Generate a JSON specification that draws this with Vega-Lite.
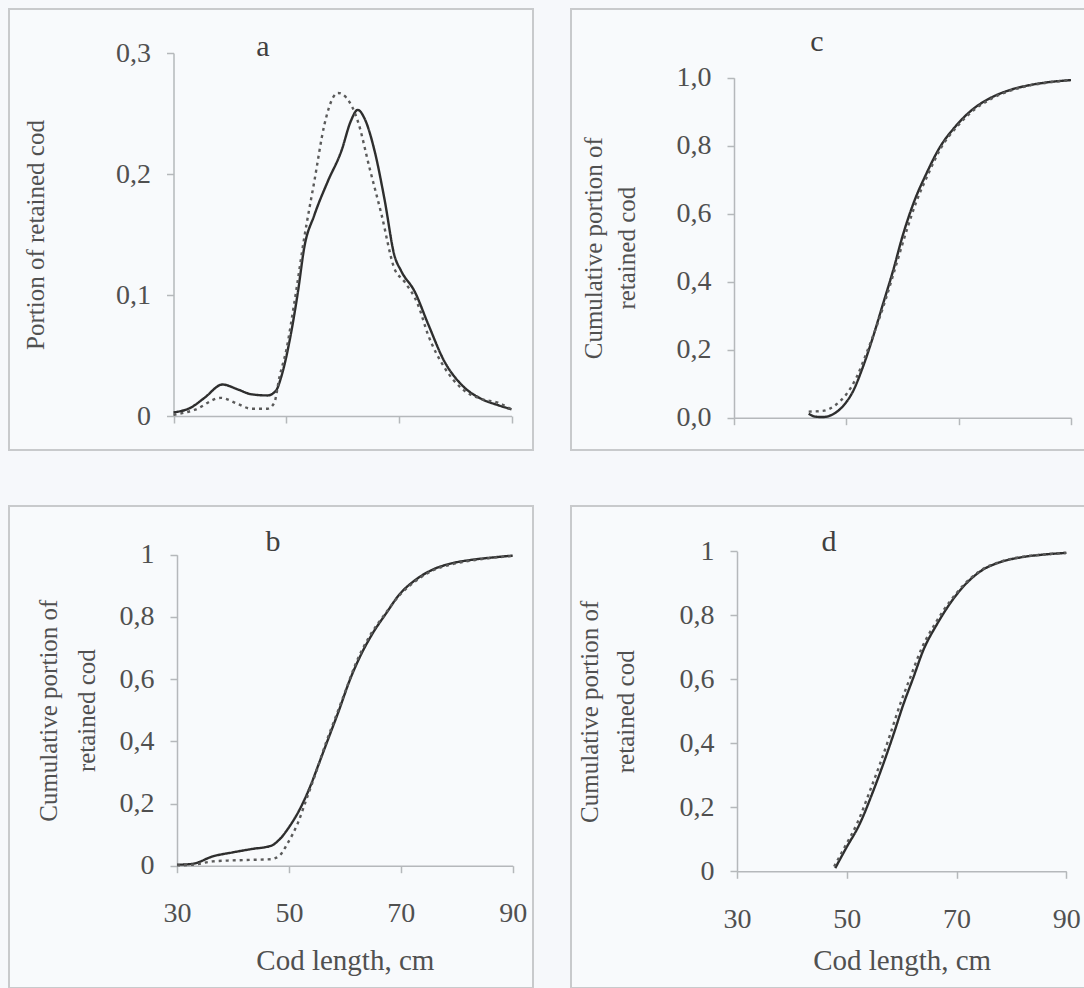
{
  "$schema": "https://vega.github.io/schema/vega-lite/v6.json",
  "background": "#f6f8fb",
  "padding": {"left": 8, "top": 8, "right": 0, "bottom": 3},
  "spacing": 54,
  "datasets": {
    "a": [
      {"series": "solid", "length": 30, "portion": 0.003}, {"series": "solid", "length": 33.1, "portion": 0.007}, {"series": "solid", "length": 35.5, "portion": 0.015}, {"series": "solid", "length": 38.7, "portion": 0.026}, {"series": "solid", "length": 41.4, "portion": 0.022}, {"series": "solid", "length": 43.8, "portion": 0.018}, {"series": "solid", "length": 46.7, "portion": 0.017}, {"series": "solid", "length": 48.2, "portion": 0.021}, {"series": "solid", "length": 49.1, "portion": 0.032}, {"series": "solid", "length": 50.6, "portion": 0.062}, {"series": "solid", "length": 52.1, "portion": 0.103}, {"series": "solid", "length": 53.2, "portion": 0.139}, {"series": "solid", "length": 55, "portion": 0.166}, {"series": "solid", "length": 57.4, "portion": 0.194}, {"series": "solid", "length": 59.8, "portion": 0.219}, {"series": "solid", "length": 61.5, "portion": 0.244}, {"series": "solid", "length": 62.7, "portion": 0.253}, {"series": "solid", "length": 63.9, "portion": 0.246}, {"series": "solid", "length": 65.7, "portion": 0.219}, {"series": "solid", "length": 67.5, "portion": 0.178}, {"series": "solid", "length": 69.2, "portion": 0.133}, {"series": "solid", "length": 70.4, "portion": 0.12}, {"series": "solid", "length": 72.8, "portion": 0.103}, {"series": "solid", "length": 75.2, "portion": 0.076}, {"series": "solid", "length": 78.1, "portion": 0.045}, {"series": "solid", "length": 81.1, "portion": 0.026}, {"series": "solid", "length": 84.7, "portion": 0.014}, {"series": "solid", "length": 87.6, "portion": 0.009}, {"series": "solid", "length": 90, "portion": 0.0055},
      {"series": "dotted", "length": 30, "portion": 0.001}, {"series": "dotted", "length": 33.7, "portion": 0.005}, {"series": "dotted", "length": 38.4, "portion": 0.015}, {"series": "dotted", "length": 41.4, "portion": 0.01}, {"series": "dotted", "length": 43.8, "portion": 0.006}, {"series": "dotted", "length": 46.7, "portion": 0.006}, {"series": "dotted", "length": 47.9, "portion": 0.011}, {"series": "dotted", "length": 48.8, "portion": 0.032}, {"series": "dotted", "length": 50, "portion": 0.054}, {"series": "dotted", "length": 51.5, "portion": 0.095}, {"series": "dotted", "length": 53.2, "portion": 0.147}, {"series": "dotted", "length": 55, "portion": 0.194}, {"series": "dotted", "length": 56.8, "portion": 0.241}, {"series": "dotted", "length": 58.3, "portion": 0.263}, {"series": "dotted", "length": 59.2, "portion": 0.267}, {"series": "dotted", "length": 60.7, "portion": 0.263}, {"series": "dotted", "length": 62.7, "portion": 0.244}, {"series": "dotted", "length": 64.8, "portion": 0.205}, {"series": "dotted", "length": 66.9, "portion": 0.167}, {"series": "dotted", "length": 69.2, "portion": 0.122}, {"series": "dotted", "length": 71, "portion": 0.111}, {"series": "dotted", "length": 73.4, "portion": 0.092}, {"series": "dotted", "length": 75.2, "portion": 0.067}, {"series": "dotted", "length": 78.1, "portion": 0.04}, {"series": "dotted", "length": 81.1, "portion": 0.023}, {"series": "dotted", "length": 84.7, "portion": 0.014}, {"series": "dotted", "length": 87.6, "portion": 0.011}, {"series": "dotted", "length": 90, "portion": 0.0055}
    ],
    "b": [
      {"series": "solid", "length": 30, "portion": 0.003}, {"series": "solid", "length": 32.8, "portion": 0.006}, {"series": "solid", "length": 36.4, "portion": 0.03}, {"series": "solid", "length": 40, "portion": 0.043}, {"series": "solid", "length": 43.5, "portion": 0.054}, {"series": "solid", "length": 46.8, "portion": 0.064}, {"series": "solid", "length": 48.3, "portion": 0.084}, {"series": "solid", "length": 50.1, "portion": 0.126}, {"series": "solid", "length": 51.9, "portion": 0.18}, {"series": "solid", "length": 53.7, "portion": 0.25}, {"series": "solid", "length": 55.4, "portion": 0.33}, {"series": "solid", "length": 57.2, "portion": 0.416}, {"series": "solid", "length": 59, "portion": 0.502}, {"series": "solid", "length": 60.8, "portion": 0.593}, {"series": "solid", "length": 62.6, "portion": 0.668}, {"series": "solid", "length": 65, "portion": 0.748}, {"series": "solid", "length": 67.4, "portion": 0.812}, {"series": "solid", "length": 69.7, "portion": 0.871}, {"series": "solid", "length": 72.7, "portion": 0.92}, {"series": "solid", "length": 75.7, "portion": 0.952}, {"series": "solid", "length": 79.3, "portion": 0.973}, {"series": "solid", "length": 82.9, "portion": 0.984}, {"series": "solid", "length": 86.4, "portion": 0.991}, {"series": "solid", "length": 90, "portion": 0.997},
      {"series": "dotted", "length": 30, "portion": 0.001}, {"series": "dotted", "length": 32.8, "portion": 0.003}, {"series": "dotted", "length": 36.4, "portion": 0.014}, {"series": "dotted", "length": 40, "portion": 0.017}, {"series": "dotted", "length": 43.5, "portion": 0.019}, {"series": "dotted", "length": 46.8, "portion": 0.021}, {"series": "dotted", "length": 48.3, "portion": 0.032}, {"series": "dotted", "length": 49.8, "portion": 0.073}, {"series": "dotted", "length": 51.6, "portion": 0.137}, {"series": "dotted", "length": 53.1, "portion": 0.212}, {"series": "dotted", "length": 54.8, "portion": 0.298}, {"series": "dotted", "length": 56.6, "portion": 0.394}, {"series": "dotted", "length": 58.4, "portion": 0.48}, {"series": "dotted", "length": 60.2, "portion": 0.566}, {"series": "dotted", "length": 62, "portion": 0.652}, {"series": "dotted", "length": 64.5, "portion": 0.74}, {"series": "dotted", "length": 67.2, "portion": 0.81}, {"series": "dotted", "length": 69.7, "portion": 0.868}, {"series": "dotted", "length": 72.7, "portion": 0.916}, {"series": "dotted", "length": 75.7, "portion": 0.949}, {"series": "dotted", "length": 79.3, "portion": 0.97}, {"series": "dotted", "length": 82.9, "portion": 0.982}, {"series": "dotted", "length": 86.4, "portion": 0.99}, {"series": "dotted", "length": 90, "portion": 0.996}
    ],
    "c": [
      {"series": "solid", "length": 43.3, "portion": 0.012}, {"series": "solid", "length": 44.5, "portion": 0.003}, {"series": "solid", "length": 45.8, "portion": 0.002}, {"series": "solid", "length": 47.6, "portion": 0.01}, {"series": "solid", "length": 49.4, "portion": 0.034}, {"series": "solid", "length": 51.2, "portion": 0.078}, {"series": "solid", "length": 52.9, "portion": 0.147}, {"series": "solid", "length": 54.7, "portion": 0.235}, {"series": "solid", "length": 56.5, "portion": 0.333}, {"series": "solid", "length": 58.3, "portion": 0.431}, {"series": "solid", "length": 60.1, "portion": 0.539}, {"series": "solid", "length": 62.1, "portion": 0.637}, {"series": "solid", "length": 64.2, "portion": 0.716}, {"series": "solid", "length": 66.6, "portion": 0.794}, {"series": "solid", "length": 69.5, "portion": 0.858}, {"series": "solid", "length": 72.5, "portion": 0.907}, {"series": "solid", "length": 75.5, "portion": 0.939}, {"series": "solid", "length": 79, "portion": 0.963}, {"series": "solid", "length": 82.6, "portion": 0.978}, {"series": "solid", "length": 86.1, "portion": 0.987}, {"series": "solid", "length": 90, "portion": 0.993},
      {"series": "dotted", "length": 43.3, "portion": 0.018}, {"series": "dotted", "length": 45.8, "portion": 0.02}, {"series": "dotted", "length": 48.2, "portion": 0.039}, {"series": "dotted", "length": 50, "portion": 0.069}, {"series": "dotted", "length": 51.8, "portion": 0.118}, {"series": "dotted", "length": 53.5, "portion": 0.186}, {"series": "dotted", "length": 55.3, "portion": 0.265}, {"series": "dotted", "length": 57.1, "portion": 0.353}, {"series": "dotted", "length": 58.9, "portion": 0.451}, {"series": "dotted", "length": 60.7, "portion": 0.549}, {"series": "dotted", "length": 62.5, "portion": 0.637}, {"series": "dotted", "length": 64.5, "portion": 0.714}, {"series": "dotted", "length": 66.8, "portion": 0.792}, {"series": "dotted", "length": 69.7, "portion": 0.856}, {"series": "dotted", "length": 72.7, "portion": 0.905}, {"series": "dotted", "length": 75.7, "portion": 0.937}, {"series": "dotted", "length": 79.2, "portion": 0.962}, {"series": "dotted", "length": 82.6, "portion": 0.977}, {"series": "dotted", "length": 86.1, "portion": 0.986}, {"series": "dotted", "length": 90, "portion": 0.993}
    ],
    "d": [
      {"series": "solid", "length": 47.9, "portion": 0.01}, {"series": "solid", "length": 49.9, "portion": 0.073}, {"series": "solid", "length": 52.3, "portion": 0.146}, {"series": "solid", "length": 54.8, "portion": 0.25}, {"series": "solid", "length": 56.6, "portion": 0.333}, {"series": "solid", "length": 58.5, "portion": 0.427}, {"series": "solid", "length": 60.3, "portion": 0.521}, {"series": "solid", "length": 62.1, "portion": 0.604}, {"series": "solid", "length": 64, "portion": 0.693}, {"series": "solid", "length": 66.4, "portion": 0.771}, {"series": "solid", "length": 68.9, "portion": 0.839}, {"series": "solid", "length": 71.3, "portion": 0.891}, {"series": "solid", "length": 74.4, "portion": 0.938}, {"series": "solid", "length": 78.1, "portion": 0.967}, {"series": "solid", "length": 81.7, "portion": 0.981}, {"series": "solid", "length": 86, "portion": 0.99}, {"series": "solid", "length": 90, "portion": 0.995},
      {"series": "dotted", "length": 47.7, "portion": 0.015}, {"series": "dotted", "length": 49.6, "portion": 0.075}, {"series": "dotted", "length": 51.9, "portion": 0.15}, {"series": "dotted", "length": 54.3, "portion": 0.255}, {"series": "dotted", "length": 56, "portion": 0.333}, {"series": "dotted", "length": 57.9, "portion": 0.427}, {"series": "dotted", "length": 59.7, "portion": 0.521}, {"series": "dotted", "length": 61.6, "portion": 0.607}, {"series": "dotted", "length": 63.6, "portion": 0.695}, {"series": "dotted", "length": 66.1, "portion": 0.774}, {"series": "dotted", "length": 68.7, "portion": 0.841}, {"series": "dotted", "length": 71.2, "portion": 0.893}, {"series": "dotted", "length": 74.4, "portion": 0.94}, {"series": "dotted", "length": 78.1, "portion": 0.968}, {"series": "dotted", "length": 81.7, "portion": 0.982}, {"series": "dotted", "length": 86, "portion": 0.99}, {"series": "dotted", "length": 90, "portion": 0.995}
    ]
  },
  "vconcat": [
    {
      "hconcat": [
        {
          "width": 524, "height": 441,
          "title": {"text": "a", "offset": -53, "dx": -8},
          "data": {"name": "a"},
          "mark": {"type": "line", "interpolate": "monotone"},
          "encoding": {
            "x": {"field": "length", "type": "quantitative",
              "scale": {"domain": [30, 90], "range": [164.5, 502.5], "nice": false, "zero": false},
              "axis": {"values": [30, 50, 70, 90], "labels": false, "title": null, "offset": -34}},
            "y": {"field": "portion", "type": "quantitative",
              "scale": {"domain": [0, 0.3], "range": [407, 44], "nice": false},
              "axis": {"values": [0, 0.1, 0.2, 0.3], "offset": -164.5, "title": "Portion of retained cod", "titlePadding": 67,
                "labelExpr": "datum.value == 0 ? '0' : replace(format(datum.value, '.1f'), '.', ',')"}},
            "strokeDash": {"field": "series", "type": "nominal", "scale": {"domain": ["solid", "dotted"], "range": [[1, 0], [3, 4]]}, "legend": null},
            "color": {"field": "series", "type": "nominal", "scale": {"domain": ["solid", "dotted"], "range": ["#2e2e2e", "#5a5a5a"]}, "legend": null}
          }
        },
        {
          "width": 516, "height": 441,
          "title": {"text": "c", "offset": -48, "dx": -12},
          "data": {"name": "c"},
          "mark": {"type": "line", "interpolate": "monotone"},
          "encoding": {
            "x": {"field": "length", "type": "quantitative",
              "scale": {"domain": [30, 90], "range": [163, 500], "nice": false, "zero": false},
              "axis": {"values": [30, 50, 70, 90], "labels": false, "title": null, "offset": -32.3}},
            "y": {"field": "portion", "type": "quantitative",
              "scale": {"domain": [0, 1], "range": [408.7, 68.7], "nice": false},
              "axis": {"values": [0, 0.2, 0.4, 0.6, 0.8, 1], "offset": -163, "title": ["Cumulative portion of", "retained cod"], "titlePadding": 37, "titleLineHeight": 33,
                "labelExpr": "replace(format(datum.value, '.1f'), '.', ',')"}},
            "strokeDash": {"field": "series", "type": "nominal", "scale": {"domain": ["solid", "dotted"], "range": [[1, 0], [3, 4]]}, "legend": null},
            "color": {"field": "series", "type": "nominal", "scale": {"domain": ["solid", "dotted"], "range": ["#2e2e2e", "#5a5a5a"]}, "legend": null}
          }
        }
      ],
      "spacing": 36
    },
    {
      "hconcat": [
        {
          "width": 524, "height": 482,
          "title": {"text": "b", "offset": -51, "dx": 2},
          "data": {"name": "b"},
          "mark": {"type": "line", "interpolate": "monotone"},
          "encoding": {
            "x": {"field": "length", "type": "quantitative",
              "scale": {"domain": [30, 90], "range": [168, 503.7], "nice": false, "zero": false},
              "axis": {"values": [30, 50, 70, 90], "title": "Cod length, cm", "offset": -122.3, "labelPadding": 27, "titlePadding": 19}},
            "y": {"field": "portion", "type": "quantitative",
              "scale": {"domain": [0, 1], "range": [359.7, 48.7], "nice": false},
              "axis": {"values": [0, 0.2, 0.4, 0.6, 0.8, 1], "offset": -168, "title": ["Cumulative portion of", "retained cod"], "titlePadding": 20, "titleLineHeight": 38,
                "labelExpr": "datum.value == 0 ? '0' : datum.value == 1 ? '1' : replace(format(datum.value, '.1f'), '.', ',')"}},
            "strokeDash": {"field": "series", "type": "nominal", "scale": {"domain": ["solid", "dotted"], "range": [[1, 0], [10, 4, 3, 4]]}, "legend": null},
            "color": {"field": "series", "type": "nominal", "scale": {"domain": ["solid", "dotted"], "range": ["#2e2e2e", "#5a5a5a"]}, "legend": null}
          }
        },
        {
          "width": 516, "height": 482,
          "title": {"text": "d", "offset": -51, "dx": 0},
          "data": {"name": "d"},
          "mark": {"type": "line", "interpolate": "monotone"},
          "encoding": {
            "x": {"field": "length", "type": "quantitative",
              "scale": {"domain": [30, 90], "range": [166, 495.3], "nice": false, "zero": false},
              "axis": {"values": [30, 50, 70, 90], "title": "Cod length, cm", "offset": -116.7, "labelPadding": 27, "titlePadding": 13}},
            "y": {"field": "portion", "type": "quantitative",
              "scale": {"domain": [0, 1], "range": [365.3, 45.3], "nice": false},
              "axis": {"values": [0, 0.2, 0.4, 0.6, 0.8, 1], "offset": -166, "title": ["Cumulative portion of", "retained cod"], "titlePadding": 41, "titleLineHeight": 36,
                "labelExpr": "datum.value == 0 ? '0' : datum.value == 1 ? '1' : replace(format(datum.value, '.1f'), '.', ',')"}},
            "strokeDash": {"field": "series", "type": "nominal", "scale": {"domain": ["solid", "dotted"], "range": [[1, 0], [3, 4]]}, "legend": null},
            "color": {"field": "series", "type": "nominal", "scale": {"domain": ["solid", "dotted"], "range": ["#2e2e2e", "#5a5a5a"]}, "legend": null}
          }
        }
      ],
      "spacing": 36
    }
  ],
  "config": {
    "font": "Liberation Serif",
    "view": {"stroke": "#c8cacc", "strokeWidth": 2, "fill": "#f8fafc"},
    "line": {"strokeWidth": 2.4},
    "axis": {
      "grid": false,
      "domainColor": "#b5b8bb",
      "domainWidth": 1.5,
      "tickColor": "#b5b8bb",
      "tickWidth": 1.5,
      "tickSize": 7,
      "labelFont": "Liberation Serif",
      "labelFontSize": 28,
      "labelColor": "#505050",
      "labelPadding": 16,
      "labelFlush": false,
      "labelOverlap": false,
      "titleFont": "Liberation Serif",
      "titleFontSize": 25,
      "titleFontWeight": "normal",
      "titleColor": "#505050"
    },
    "axisX": {"titleFontSize": 29},
    "title": {"font": "Liberation Serif", "fontSize": 30, "fontWeight": "normal", "color": "#404040", "baseline": "alphabetic", "anchor": "middle", "frame": "group"}
  }
}
